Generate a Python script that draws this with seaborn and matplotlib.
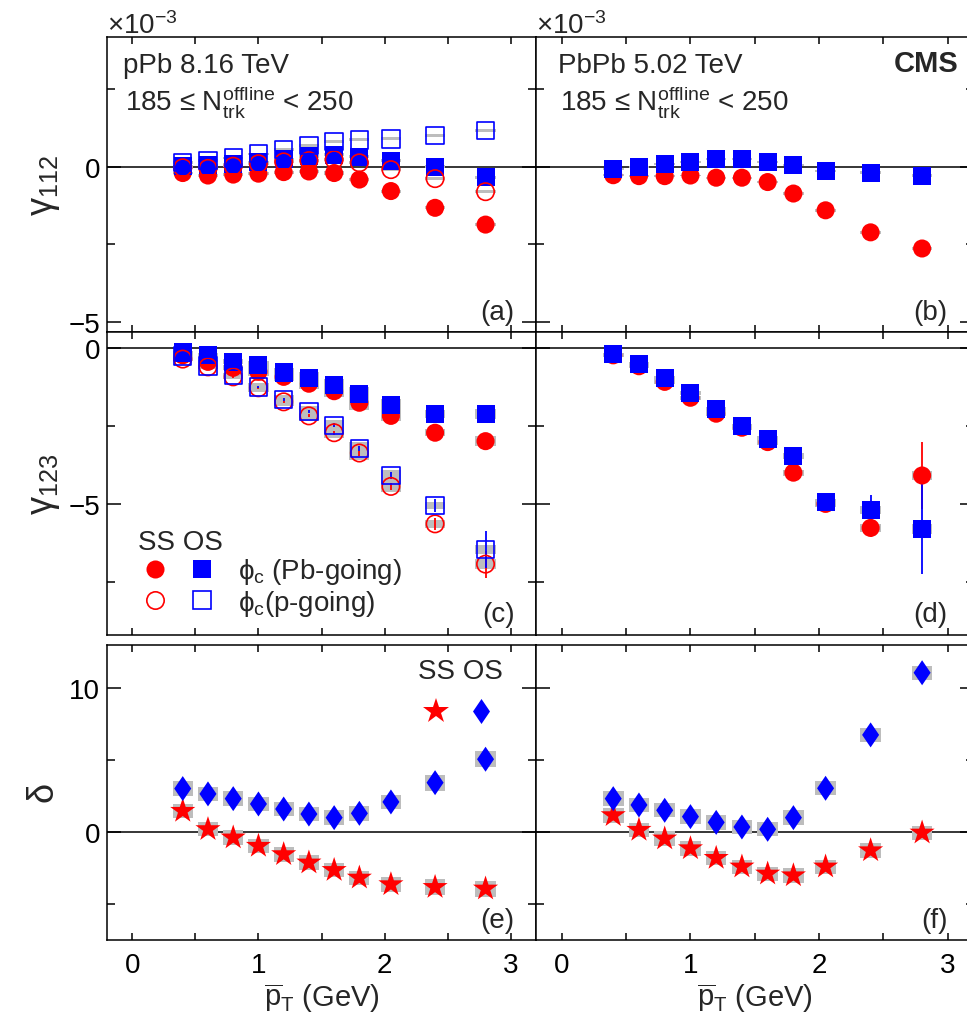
import numpy as np
import matplotlib
matplotlib.use("Agg")
import matplotlib.pyplot as plt
import seaborn as sns
from matplotlib.lines import Line2D
from matplotlib.legend_handler import HandlerTuple

# pair-averaged pT bins (GeV)
pt = [0.4, 0.6, 0.8, 1.0, 1.2, 1.4, 1.6, 1.8, 2.05, 2.4, 2.8]

# gamma_112 (x 10^-3), pPb 8.16 TeV
g112_pPb_ss_pb = [-0.20, -0.28, -0.25, -0.22, -0.17, -0.15, -0.20, -0.41, -0.78, -1.32, -1.86]
g112_pPb_os_pb = [0.02, 0.05, 0.09, 0.16, 0.24, 0.34, 0.39, 0.33, 0.19, 0.00, -0.33]
g112_pPb_ss_p = [-0.03, -0.05, 0.02, 0.10, 0.16, 0.20, 0.23, 0.13, -0.09, -0.38, -0.80]
g112_pPb_os_p = [0.14, 0.20, 0.29, 0.42, 0.56, 0.68, 0.81, 0.87, 0.90, 1.00, 1.18]
sys_g112_pPb = [0.04, 0.04, 0.04, 0.04, 0.05, 0.05, 0.05, 0.05, 0.05, 0.05, 0.05]

# gamma_112 (x 10^-3), PbPb 5.02 TeV
g112_PbPb_ss = [-0.27, -0.30, -0.30, -0.28, -0.35, -0.35, -0.49, -0.86, -1.40, -2.11, -2.63]
g112_PbPb_os = [-0.06, 0.00, 0.10, 0.16, 0.24, 0.24, 0.16, 0.06, -0.13, -0.19, -0.29]
sys_g112_PbPb = [0.03, 0.03, 0.03, 0.03, 0.03, 0.03, 0.04, 0.04, 0.04, 0.05, 0.05]

# gamma_123 (x 10^-3), pPb 8.16 TeV
g123_pPb_ss_pb = [-0.24, -0.45, -0.64, -0.77, -0.93, -1.15, -1.39, -1.76, -2.18, -2.72, -2.99]
g123_pPb_os_pb = [-0.15, -0.24, -0.45, -0.54, -0.79, -0.96, -1.18, -1.48, -1.83, -2.12, -2.12]
g123_pPb_ss_p = [-0.36, -0.61, -0.93, -1.28, -1.73, -2.18, -2.72, -3.37, -4.44, -5.64, -6.93]
g123_pPb_os_p = [-0.26, -0.58, -0.88, -1.25, -1.65, -2.03, -2.48, -3.23, -4.09, -5.05, -6.47]
sys_g123_pPb = [0.05, 0.06, 0.08, 0.12, 0.14, 0.18, 0.18, 0.22, 0.18, 0.12, 0.15]
err_g123_pPb_ss_p = [0.02, 0.02, 0.03, 0.03, 0.04, 0.05, 0.06, 0.08, 0.12, 0.20, 0.43]
err_g123_pPb_os_p = [0.02, 0.02, 0.03, 0.03, 0.04, 0.05, 0.06, 0.08, 0.12, 0.20, 0.60]

# gamma_123 (x 10^-3), PbPb 5.02 TeV
g123_PbPb_ss = [-0.24, -0.59, -1.09, -1.60, -2.11, -2.56, -3.02, -4.00, -5.00, -5.77, -4.09]
g123_PbPb_os = [-0.19, -0.51, -0.96, -1.45, -1.96, -2.51, -2.92, -3.47, -4.95, -5.20, -5.81]
sys_g123_PbPb = [0.04, 0.05, 0.06, 0.07, 0.08, 0.08, 0.09, 0.10, 0.10, 0.12, 0.15]
err_g123_PbPb_ss = [0.01, 0.01, 0.02, 0.02, 0.03, 0.04, 0.05, 0.08, 0.12, 0.30, 1.07]
err_g123_PbPb_os = [0.01, 0.01, 0.02, 0.02, 0.03, 0.04, 0.05, 0.08, 0.12, 0.50, 1.45]

# delta, pPb 8.16 TeV
d_pPb_ss = [1.46, 0.19, -0.39, -0.97, -1.55, -2.13, -2.65, -3.18, -3.64, -3.83, -3.94]
d_pPb_os = [3.02, 2.65, 2.32, 1.95, 1.60, 1.25, 1.00, 1.30, 2.09, 3.43, 5.06]
sys_d_pPb = [0.50, 0.50, 0.50, 0.50, 0.50, 0.50, 0.50, 0.50, 0.50, 0.55, 0.55]

# delta, PbPb 5.02 TeV
d_PbPb_ss = [1.16, 0.14, -0.46, -1.14, -1.81, -2.41, -2.90, -3.02, -2.41, -1.28, -0.05]
d_PbPb_os = [2.32, 1.88, 1.51, 1.07, 0.67, 0.35, 0.19, 1.00, 3.04, 6.75, 11.07]
sys_d_PbPb = [0.50, 0.50, 0.50, 0.50, 0.50, 0.50, 0.50, 0.50, 0.50, 0.50, 0.50]

RED = "#ff0000"
BLUE = "#0000ff"
GRAY = "#bdbdbd"
DIAMOND = [(0, 1), (0.68, 0), (0, -1), (-0.68, 0), (0, 1)]
STAR_MS = 19
DIAM_MS = 18

sns.set_style("ticks")
plt.rcParams["font.family"] = ["Liberation Sans", "DejaVu Sans"]
plt.rcParams["mathtext.fontset"] = "custom"
plt.rcParams["mathtext.rm"] = "Liberation Sans"
plt.rcParams["mathtext.it"] = "Liberation Sans"
plt.rcParams["mathtext.bf"] = "Liberation Sans:bold"
plt.rcParams["axes.linewidth"] = 1.1

fig = plt.figure(figsize=(9.67, 10.2), dpi=100)
W_L, W_R = 0.4436, 0.4525
X_L, X_R = 0.1107, 0.5543
rows = [(0.6735, 0.2892), (0.3765, 0.2971), (0.0775, 0.2892)]
axes = [[fig.add_axes([X_L, b, W_L, h]), fig.add_axes([X_R, b, W_R, h])] for b, h in rows]


def sysbox(ax, y, sys):
    y = np.asarray(y)
    s = np.asarray(sys)
    ax.bar(pt, 2 * s, bottom=y - s, width=0.16, color=GRAY, linewidth=0, zorder=2)


def points(ax, y, color, marker, size, filled=True, err=None):
    if err is not None:
        ax.errorbar(pt, y, yerr=err, fmt="none", ecolor=color, elinewidth=1.3, zorder=3)
    if filled:
        sns.scatterplot(x=pt, y=y, ax=ax, marker=marker, s=size ** 2, color=color,
                        edgecolor="none", linewidth=0, zorder=4)
    else:
        sns.scatterplot(x=pt, y=y, ax=ax, marker=marker, s=size ** 2, color=color,
                        facecolor="none", edgecolor=color, linewidth=1.2, zorder=4)


# (a) gamma112 pPb
ax = axes[0][0]
for y in [g112_pPb_ss_pb, g112_pPb_os_pb, g112_pPb_ss_p, g112_pPb_os_p]:
    sysbox(ax, y, sys_g112_pPb)
points(ax, g112_pPb_ss_pb, RED, "o", 13)
points(ax, g112_pPb_os_pb, BLUE, "s", 13)
points(ax, g112_pPb_ss_p, RED, "o", 12.5, filled=False)
points(ax, g112_pPb_os_p, BLUE, "s", 12.5, filled=False)

# (b) gamma112 PbPb
ax = axes[0][1]
for y in [g112_PbPb_ss, g112_PbPb_os]:
    sysbox(ax, y, sys_g112_PbPb)
points(ax, g112_PbPb_ss, RED, "o", 13)
points(ax, g112_PbPb_os, BLUE, "s", 13)

# (c) gamma123 pPb
ax = axes[1][0]
for y in [g123_pPb_ss_pb, g123_pPb_os_pb, g123_pPb_ss_p, g123_pPb_os_p]:
    sysbox(ax, y, sys_g123_pPb)
points(ax, g123_pPb_ss_pb, RED, "o", 13)
points(ax, g123_pPb_os_pb, BLUE, "s", 13)
points(ax, g123_pPb_ss_p, RED, "o", 12.5, filled=False, err=err_g123_pPb_ss_p)
points(ax, g123_pPb_os_p, BLUE, "s", 12.5, filled=False, err=err_g123_pPb_os_p)

# (d) gamma123 PbPb
ax = axes[1][1]
for y in [g123_PbPb_ss, g123_PbPb_os]:
    sysbox(ax, y, sys_g123_PbPb)
points(ax, g123_PbPb_ss, RED, "o", 13, err=err_g123_PbPb_ss)
points(ax, g123_PbPb_os, BLUE, "s", 13, err=err_g123_PbPb_os)

# (e) delta pPb
ax = axes[2][0]
for y in [d_pPb_ss, d_pPb_os]:
    sysbox(ax, y, sys_d_pPb)
points(ax, d_pPb_ss, RED, "*", STAR_MS)
points(ax, d_pPb_os, BLUE, DIAMOND, DIAM_MS)

# (f) delta PbPb
ax = axes[2][1]
for y in [d_PbPb_ss, d_PbPb_os]:
    sysbox(ax, y, sys_d_PbPb)
points(ax, d_PbPb_ss, RED, "*", STAR_MS)
points(ax, d_PbPb_os, BLUE, DIAMOND, DIAM_MS)

ylims = [(-5.32, 4.18), (-9.2, 0.51), (-7.5, 13.0)]
ymajor = [[-5, 0], [-5, 0], [0, 10]]
yminor = [[-2.5, 2.5], [-7.5, -2.5], [-5, 5]]
ylabels = [r"$\gamma_{112}$", r"$\gamma_{123}$", r"$\delta$"]
tags = [["(a)", "(b)"], ["(c)", "(d)"], ["(e)", "(f)"]]

for r in range(3):
    for c in range(2):
        ax = axes[r][c]
        ax.axhline(0, color="black", lw=1.1, zorder=1.5)
        ax.set_xlim(-0.2, 3.2)
        ax.set_ylim(*ylims[r])
        ax.set_xticks([0, 1, 2, 3])
        ax.set_xticks([0.5, 1.5, 2.5], minor=True)
        ax.set_yticks(ymajor[r])
        ax.set_yticks(yminor[r], minor=True)
        ax.tick_params(which="both", direction="in", top=True, right=True,
                       width=1.1, labelsize=20, colors="black")
        ax.tick_params(axis="x", which="both", length=5, pad=9)
        ax.tick_params(axis="y", which="major", length=10, pad=5)
        ax.tick_params(axis="y", which="minor", length=6)
        ax.set_xlabel("")
        ax.set_ylabel("")
        if r < 2:
            ax.tick_params(axis="x", labelbottom=False)
        else:
            ax.set_xlabel(r"$\overline{\rm p}_{\rm T}$ (GeV)", fontsize=21)
            ax.xaxis.set_label_coords(0.5, -0.14)
        if c == 1:
            ax.tick_params(axis="y", labelleft=False)
        else:
            ax.set_ylabel(ylabels[r], fontsize=26)
            ax.yaxis.set_label_coords(-0.105, 0.5)
        ax.text(0.95 if c == 0 else 0.94, 0.045, tags[r][c], transform=ax.transAxes,
                ha="right", va="baseline", fontsize=20)
        for s in ax.spines.values():
            s.set_visible(True)
            s.set_color("black")

# header texts
for c, system in enumerate(["pPb 8.16 TeV", "PbPb 5.02 TeV"]):
    ax = axes[0][c]
    x0 = 0.037 if c == 0 else 0.051
    ax.text(x0, 0.881, system, transform=ax.transAxes, fontsize=20, va="baseline")
    ax.text(x0 + 0.004, 0.756, r"185 ≤ N$_{\rm trk}^{\rm offline}$ < 250",
            transform=ax.transAxes, fontsize=20, va="baseline")
    ax.text(0.0, 1.015, r"$\times$10$^{-3}$", transform=ax.transAxes, fontsize=20,
            ha="left", va="baseline")
axes[0][1].text(0.965, 0.885, "CMS", transform=axes[0][1].transAxes, fontsize=21,
                fontweight="bold", ha="right", va="baseline")

# legend (c)
ax = axes[1][0]
h_pb = (Line2D([], [], ls="none", marker="o", color=RED, markersize=13, markeredgewidth=0),
        Line2D([], [], ls="none", marker="s", color=BLUE, markersize=13, markeredgewidth=0))
h_p = (Line2D([], [], ls="none", marker="o", markerfacecolor="none", markeredgecolor=RED,
              markersize=12.5, markeredgewidth=1.2),
       Line2D([], [], ls="none", marker="s", markerfacecolor="none", markeredgecolor=BLUE,
              markersize=12.5, markeredgewidth=1.2))
ax.legend([h_pb, h_p], [r"$\phi_{c}$ (Pb-going)", r"$\phi_{c}$(p-going)"],
          handler_map={tuple: HandlerTuple(ndivide=None, pad=0.5)},
          loc="upper left", bbox_to_anchor=(0.073, 0.35), frameon=False,
          title="SS OS", alignment="left", title_fontsize=20, fontsize=20,
          handlelength=2.9, handletextpad=0.7, labelspacing=0.05,
          borderpad=0, borderaxespad=0)

# legend (e)
ax = axes[2][0]
h_d = (Line2D([], [], ls="none", marker="*", color=RED, markersize=STAR_MS, markeredgewidth=0),
       Line2D([], [], ls="none", marker=DIAMOND, color=BLUE, markersize=DIAM_MS,
              markeredgewidth=0))
ax.legend([h_d], [""], handler_map={tuple: HandlerTuple(ndivide=None, pad=0.32)},
          loc="upper left", bbox_to_anchor=(0.725, 0.955), frameon=False,
          title="SS OS", alignment="left", title_fontsize=20, fontsize=20,
          handlelength=2.9, handletextpad=0, labelspacing=0.6,
          borderpad=0, borderaxespad=0)

fig.savefig("out.png", dpi=100)
